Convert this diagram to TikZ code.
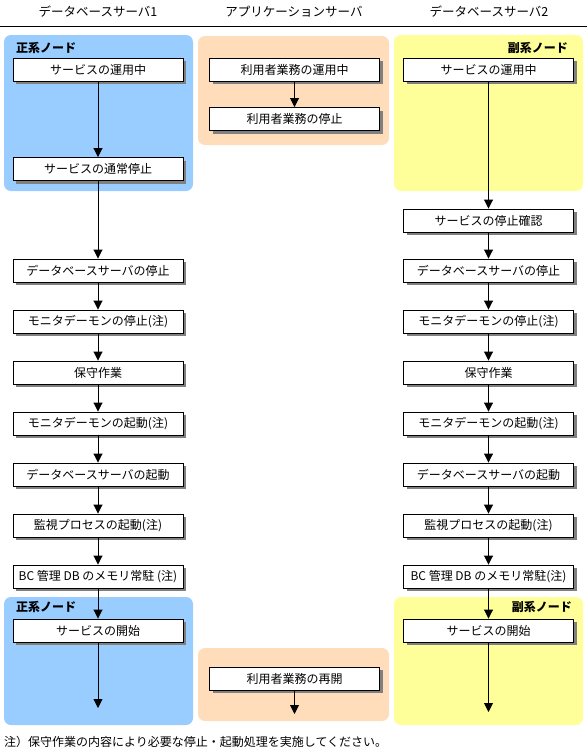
\documentclass[tikz,border=0pt]{standalone}
\usepackage{fontspec}
\setmainfont{Noto Sans CJK JP}
\usetikzlibrary{arrows.meta,shadows}
\definecolor{nodeblue}{HTML}{99CCFF}
\definecolor{nodeyellow}{HTML}{FFFF99}
\definecolor{apporange}{HTML}{FFDDBB}
\begin{document}
\begin{tikzpicture}[x=1pt,y=-1pt,
  stepbox/.style={draw=black, line width=0.9pt, fill=white, minimum width=170pt, minimum height=23pt, inner sep=0pt,
    font=\fontsize{12}{13}\selectfont,
    drop shadow={shadow xshift=3pt, shadow yshift=-3pt, fill=black!50, opacity=1}},
  hdr/.style={font=\fontsize{12.5}{14}\selectfont, inner sep=0pt},
  grplabel/.style={font=\fontsize{12}{13}\selectfont\bfseries, inner sep=0pt},
  arr/.style={line width=0.9pt, -{Triangle[width=9pt,length=9pt]}},
]
\useasboundingbox (0,0) rectangle (588,755);
% group backgrounds
\fill[nodeblue, rounded corners=7pt] (4,35) rectangle (193,191);
\fill[apporange, rounded corners=7pt] (198,36) rectangle (389,145);
\fill[nodeyellow, rounded corners=7pt] (394,35) rectangle (583,191);
\fill[nodeblue, rounded corners=7pt] (4,597) rectangle (193,725);
\fill[apporange, rounded corners=7pt] (198,648) rectangle (389,721);
\fill[nodeyellow, rounded corners=7pt] (394,597) rectangle (583,725);
% headers
\node[hdr] (h1) at (98,12) {データベースサーバ1};
\node[hdr] (h2) at (294,12) {アプリケーションサーバ};
\node[hdr] (h3) at (489,12) {データベースサーバ2};
\draw[line width=1pt] (0,26) -- (587,26);
% group labels
\node[grplabel, anchor=west] (la1) at (16,48) {正系ノード};
\node[grplabel, anchor=east] (lb1) at (568,48) {副系ノード};
\node[grplabel, anchor=west] (la2) at (16,607) {正系ノード};
\node[grplabel, anchor=east] (lb2) at (572,607) {副系ノード};
% left column
\node[stepbox] (a1) at (98,69.5) {サービスの運用中};
\node[stepbox] (a2) at (98,169) {サービスの通常停止};
\node[stepbox] (a3) at (98,270.5) {データベースサーバの停止};
\node[stepbox] (a4) at (98,321.5) {モニタデーモンの停止(注)};
\node[stepbox] (a5) at (98,372.5) {保守作業};
\node[stepbox] (a6) at (98,423.5) {モニタデーモンの起動(注)};
\node[stepbox] (a7) at (98,474.5) {データベースサーバの起動};
\node[stepbox] (a8) at (98,525.5) {監視プロセスの起動(注)};
\node[stepbox] (a9) at (98,576.5) {BC 管理 DB のメモリ常駐 (注)};
\node[stepbox] (a10) at (98,630.5) {サービスの開始};
\coordinate (aend) at (98,708);
% middle column
\node[stepbox] (m1) at (294.5,69.5) {利用者業務の運用中};
\node[stepbox] (m2) at (294.5,119) {利用者業務の停止};
\node[stepbox] (m3) at (294.5,678.5) {利用者業務の再開};
\coordinate (mend) at (294.5,714);
% right column
\node[stepbox] (b1) at (488.5,69.5) {サービスの運用中};
\node[stepbox] (b2) at (488.5,220.5) {サービスの停止確認};
\node[stepbox] (b3) at (488.5,270.5) {データベースサーバの停止};
\node[stepbox] (b4) at (488.5,321.5) {モニタデーモンの停止(注)};
\node[stepbox] (b5) at (488.5,372.5) {保守作業};
\node[stepbox] (b6) at (488.5,423.5) {モニタデーモンの起動(注)};
\node[stepbox] (b7) at (488.5,474.5) {データベースサーバの起動};
\node[stepbox] (b8) at (488.5,525.5) {監視プロセスの起動(注)};
\node[stepbox] (b9) at (488.5,576.5) {BC 管理 DB のメモリ常駐(注)};
\node[stepbox] (b10) at (488.5,630.5) {サービスの開始};
\coordinate (bend) at (488.5,712);
% arrows
\foreach \p/\q in {a1/a2,a2/a3,a3/a4,a4/a5,a5/a6,a6/a7,a7/a8,a8/a9,a9/a10,
                   b1/b2,b2/b3,b3/b4,b4/b5,b5/b6,b6/b7,b7/b8,b8/b9,b9/b10,
                   m1/m2}
  \draw[arr] (\p.south) -- (\q.north);
\draw[arr] (a10.south) -- (aend);
\draw[arr] (b10.south) -- (bend);
\draw[arr] (m3.south) -- (mend);
% footnote
\node[anchor=west, inner sep=0pt, font=\fontsize{12}{13}\selectfont] (note) at (4,742) {注）保守作業の内容により必要な停止・起動処理を実施してください。};
\end{tikzpicture}
\end{document}
